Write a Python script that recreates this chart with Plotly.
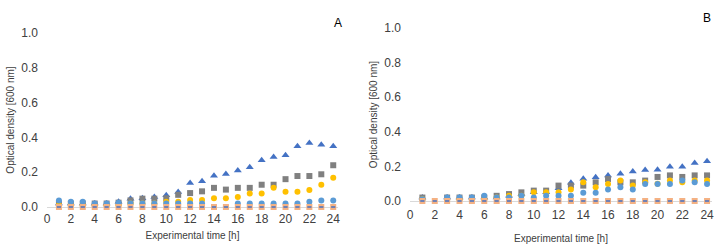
import plotly.graph_objects as go

hours = list(range(1, 25))
x_ticks = list(range(0, 25, 2))
y_ticks = [0.0, 0.2, 0.4, 0.6, 0.8, 1.0]
y_tick_text = ["0.0", "0.2", "0.4", "0.6", "0.8", "1.0"]

# Panel A
a_triangle = [0.02, 0.02, 0.02, 0.02, 0.02, 0.03, 0.048, 0.05, 0.057, 0.067, 0.086, 0.138,
              0.148, 0.18, 0.19, 0.21, 0.228, 0.268, 0.287, 0.297, 0.349, 0.368, 0.358, 0.349]
a_square = [0.02, 0.02, 0.02, 0.02, 0.02, 0.025, 0.038, 0.048, 0.048, 0.05, 0.07, 0.08,
            0.09, 0.11, 0.10, 0.11, 0.11, 0.128, 0.128, 0.16, 0.178, 0.178, 0.188, 0.24]
a_yellow = [0.01, 0.01, 0.01, 0.01, 0.01, 0.01, 0.02, 0.02, 0.02, 0.03, 0.03, 0.04,
            0.04, 0.05, 0.05, 0.057, 0.078, 0.078, 0.11, 0.088, 0.088, 0.098, 0.128, 0.168]
a_circle = [0.038, 0.03, 0.03, 0.02, 0.02, 0.025, 0.02, 0.02, 0.02, 0.02, 0.02, 0.02,
            0.02, 0.0, 0.0, 0.02, 0.02, 0.02, 0.02, 0.02, 0.02, 0.03, 0.038, 0.038]
a_orange = [0.0] * 24
a_dash = [0.0] * 24

# Panel B
b_triangle = [0.02, None, 0.02, 0.02, 0.02, 0.02, 0.02, 0.03, 0.04, 0.05, 0.05, 0.073,
              0.106, 0.128, 0.138, 0.148, 0.157, 0.17, 0.179, 0.18, 0.198, 0.198, 0.22, 0.23]
b_square = [0.02, None, 0.02, 0.02, 0.02, 0.02, 0.03, 0.04, 0.05, 0.06, 0.06, 0.089,
            0.089, 0.089, 0.108, 0.127, 0.108, 0.108, 0.118, 0.139, 0.148, 0.139, 0.148, 0.148]
b_yellow = [0.01, None, 0.01, 0.01, 0.01, 0.01, 0.02, 0.03, 0.03, 0.05, 0.05, 0.05,
            0.067, 0.108, 0.079, 0.098, 0.118, 0.089, 0.108, 0.10, 0.118, 0.108, 0.118, 0.118]
b_circle = [0.01, None, 0.02, 0.02, 0.02, 0.03, 0.02, 0.02, 0.03, 0.02, 0.03, 0.03,
            0.03, 0.048, 0.048, 0.067, 0.079, 0.067, 0.098, 0.098, 0.098, 0.118, 0.108, 0.098]
b_orange = [0.0] * 24
b_dash = [0.0] * 24

FONT = "Liberation Sans"
W, H = 719, 247

def px(p):
    return p / W

def py(p):
    return 1 - p / H

fig = go.Figure()

def add_panel(xa, ya, tri, sq, yel, cir, ora, dash):
    common = dict(mode="markers", xaxis=xa, yaxis=ya, showlegend=False, cliponaxis=False)
    fig.add_trace(go.Scatter(x=hours, y=tri, marker=dict(symbol="triangle-up", size=7, color="#4472C4"), **common))
    fig.add_trace(go.Scatter(x=hours, y=sq, marker=dict(symbol="square", size=6, color="#808080"), **common))
    fig.add_trace(go.Scatter(x=hours, y=yel, marker=dict(symbol="circle", size=6, color="#FFC000"), **common))
    fig.add_trace(go.Scatter(x=hours, y=cir, marker=dict(symbol="circle", size=6, color="#5B9BD5"), **common))
    fig.add_trace(go.Scatter(x=hours, y=ora, marker=dict(symbol="square", size=6, color="#F4B183"), **common))
    fig.add_trace(go.Scatter(x=hours, y=dash, marker=dict(symbol="line-ew", size=3,
                                                         line=dict(color="#4472C4", width=1.5)), **common))

add_panel("x", "y", a_triangle, a_square, a_yellow, a_circle, a_orange, a_dash)
add_panel("x2", "y2", b_triangle, b_square, b_yellow, b_circle, b_orange, b_dash)

def xaxis(dom, span, lblgap, standoff):
    return dict(domain=dom, range=[0, span], tickvals=x_ticks, ticktext=[str(v) for v in x_ticks],
                showgrid=False, zeroline=False, showline=False, ticks="", automargin=False,
                ticklabelstandoff=lblgap,
                tickfont=dict(family=FONT, size=12, color="#404040"),
                title=dict(text="Experimental time [h]", font=dict(family=FONT, size=10, color="#404040"),
                           standoff=standoff))

def yaxis(dom):
    return dict(domain=dom, range=[0, 1.0], tickvals=y_ticks, ticktext=y_tick_text,
                showgrid=False, zeroline=True, zerolinecolor="#D9D9D9", zerolinewidth=1, showline=False, ticks="",
                ticklabelstandoff=8, automargin=False,
                tickfont=dict(family=FONT, size=12, color="#404040"),
                title=dict(text="Optical density [600 nm]", font=dict(family=FONT, size=10, color="#404040"),
                           standoff=4))

fig.update_layout(
    width=W, height=H, margin=dict(l=0, r=0, t=0, b=0, autoexpand=False),
    paper_bgcolor="white", plot_bgcolor="white",
    xaxis=dict(**xaxis([px(47), px(338)], 24.4, 3, 6), anchor="y"),
    yaxis=dict(**yaxis([py(207), py(33)]), anchor="x"),
    xaxis2=dict(**xaxis([px(410), px(712)], 24.4, 5, 13), anchor="y2"),
    yaxis2=dict(**yaxis([py(201), py(28)]), anchor="x2"),
    annotations=[
        dict(text="A", x=px(338), y=py(14), xref="paper", yref="paper", showarrow=False,
             font=dict(family=FONT, size=12, color="#000000")),
        dict(text="B", x=px(713), y=py(9), xref="paper", yref="paper", showarrow=False,
             font=dict(family=FONT, size=12, color="#000000")),
    ],
)

fig.write_html("out.html", config={"displayModeBar": False},
               post_script="document.body.style.margin='0';document.body.style.overflow='hidden';")
